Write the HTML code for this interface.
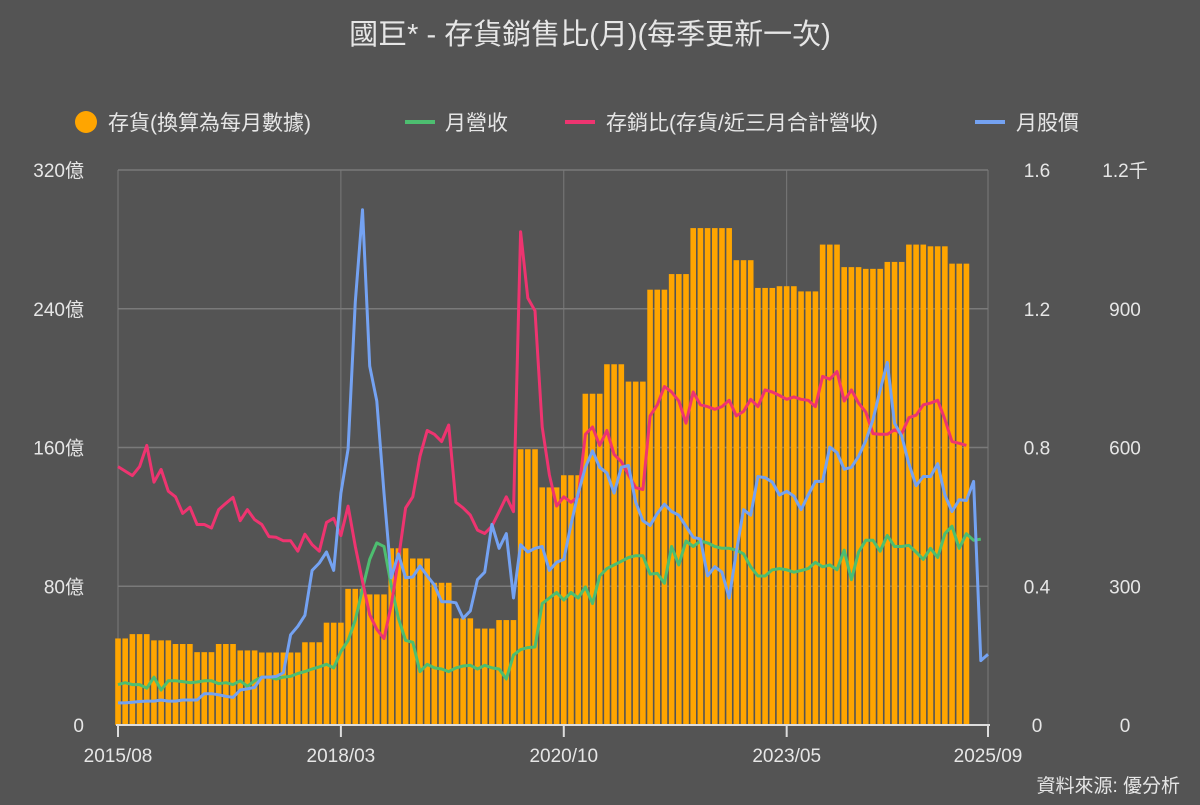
<!DOCTYPE html>
<html><head><meta charset="utf-8">
<style>
body{margin:0;background:#545454;width:1200px;height:800px;overflow:hidden;font-family:"Liberation Sans","Noto Sans CJK TC",sans-serif;}
svg text{font-family:"Liberation Sans","Noto Sans CJK TC",sans-serif;fill:#e6e6e6;}
</style></head>
<body>
<svg id="chart" width="1200" height="800" xmlns="http://www.w3.org/2000/svg">
<rect width="1200" height="800" fill="#545454"/>
<text x="590" y="44" font-size="29" text-anchor="middle">國巨* - 存貨銷售比(月)(每季更新一次)</text>
<g id="legend">
  <circle cx="86" cy="122" r="11" fill="#FFA500"/>
  <text x="108" y="130" font-size="21">存貨(換算為每月數據)</text>
  <rect x="405" y="120" width="30" height="4" fill="#4DBE70"/>
  <text x="445" y="130" font-size="21">月營收</text>
  <rect x="565" y="120" width="30" height="4" fill="#EE3470"/>
  <text x="606" y="130" font-size="21">存銷比(存貨/近三月合計營收)</text>
  <rect x="975" y="120" width="30" height="4" fill="#74A2F2"/>
  <text x="1016" y="130" font-size="21">月股價</text>
</g>
<g id="grid"></g>
<g id="bars"></g>
<g id="lines"></g>
<g id="axes"></g>
<text x="1180" y="792" font-size="19" text-anchor="end">資料來源: 優分析</text>
</svg>
<script>
// quarterly inventory (億), 2015Q3 .. 2025Q2
const inventoryQ=[49.9,52.4,48.8,46.7,42,46.7,43,41.8,41.8,47.7,59,78.5,75.3,101.9,96,82,61.5,55.6,60.5,159,137,144,191,208,198,251,260,286.5,286.5,268,252,253,250,277,264,263,267,277,276,266];
// monthly revenue (億), 2015/08 .. 2025/08
const revenue=[23.3,24.4,23.3,23.3,21.2,27.6,20.2,25.5,25.5,25.0,24.4,24.8,25.5,25.5,23.8,24.4,23.3,25.5,22.3,25.5,27.6,27.6,26.5,27.6,28.0,29.7,30.8,32.3,33.5,35.0,32.9,42.4,48.8,60.5,78.5,95.5,105.0,102.9,80.6,61.5,48.8,47.7,30.8,35.0,32.9,32.3,30.8,32.9,34.0,34.4,32.3,34.4,32.9,32.3,26.5,40.3,43.5,44.6,45.0,70.0,73.2,76.4,72.1,76.4,73.2,79.6,70.0,85.9,90.2,92.3,94.4,96.6,97.6,97.6,87.0,87.4,81.7,102.9,92.3,106.1,102.9,106.1,105.0,102.9,101.9,101.9,100.8,98.7,91.2,85.9,85.9,89.5,90.2,89.5,88.1,89.1,90.2,93.8,91.2,92.3,89.5,100.8,83.8,99.7,106.5,106.5,100.2,109.3,102.9,102.9,103.6,99.7,95.5,101.9,96.6,110.3,114.6,101.9,110.3,106.5,107.2];
// monthly inventory/sales ratio, 2015/08 .. 2025/06
const ratio=[0.745,0.732,0.719,0.745,0.806,0.700,0.737,0.674,0.658,0.610,0.628,0.578,0.578,0.568,0.621,0.639,0.656,0.589,0.621,0.592,0.578,0.543,0.541,0.531,0.531,0.501,0.550,0.520,0.501,0.584,0.596,0.546,0.631,0.515,0.414,0.318,0.276,0.249,0.345,0.477,0.626,0.658,0.775,0.849,0.838,0.817,0.865,0.642,0.626,0.605,0.562,0.552,0.573,0.615,0.658,0.615,1.422,1.231,1.194,0.859,0.721,0.631,0.658,0.642,0.658,0.838,0.859,0.806,0.849,0.780,0.759,0.721,0.684,0.679,0.891,0.923,0.976,0.960,0.934,0.870,0.960,0.923,0.918,0.910,0.918,0.936,0.891,0.904,0.939,0.918,0.966,0.960,0.950,0.939,0.946,0.939,0.936,0.918,1.005,0.997,1.019,0.934,0.966,0.928,0.902,0.840,0.838,0.838,0.851,0.840,0.886,0.893,0.923,0.928,0.936,0.881,0.817,0.812,0.806];
// monthly stock price, 2015/08 .. 2025/09
const price=[47.7,47.7,49.3,50.9,51.7,51.7,54.1,51.7,51.7,54.1,54.1,54.1,67.6,67.6,65.3,62.1,59.7,75.6,78.0,81.2,103.5,103.5,105.0,113.0,195.0,213.3,237.1,334.2,350.2,374.0,334.2,501.4,596.9,915.2,1114.1,775.9,700.3,501.4,318.3,370.0,318.3,319.9,343.8,322.3,302.4,266.6,266.6,264.2,230.8,246.7,314.3,330.3,433.7,382.0,413.8,274.6,389.9,374.0,382.0,386.0,334.2,351.7,358.1,433.7,501.4,557.1,592.9,557.1,545.1,501.4,557.1,561.0,481.5,441.7,431.3,457.6,477.5,461.6,453.6,429.7,405.9,401.9,322.3,342.2,330.3,274.6,374.0,465.5,453.6,537.2,534.8,525.2,497.4,505.3,495.0,465.5,497.4,526.8,526.8,600.8,588.9,553.1,557.1,580.9,614.4,660.5,724.2,783.9,652.6,624.7,565.0,517.3,537.2,537.2,565.0,497.4,461.6,487.0,485.4,526.8,139.3,152.8];
const leftTicks=["0","80億","160億","240億","320億"];
const midTicks=["0","0.4","0.8","1.2","1.6"];
const rightTicks=["0","300","600","900","1.2千"];
const xTickLabels=["2015/08","2018/03","2020/10","2023/05","2025/09"];
const xTickMonths=[0,31,62,93,121];

const NS="http://www.w3.org/2000/svg";
const X0=118,X1=988,Y0=725,Y1=170,NM=121;
const xm=i=>X0+(X1-X0)*i/NM;
const yL=v=>Y0-(Y0-Y1)*v/320;
const yR=v=>Y0-(Y0-Y1)*v/1.6;
const yP=v=>Y0-(Y0-Y1)*v/1200;
function mk(tag,attrs,parent){const e=document.createElementNS(NS,tag);for(const k in attrs)e.setAttribute(k,attrs[k]);parent.appendChild(e);return e;}
const grid=document.getElementById('grid'),bars=document.getElementById('bars'),lines=document.getElementById('lines'),axes=document.getElementById('axes');

for(let k=0;k<5;k++){
  const y=Y0-(Y0-Y1)*k/4;
  if(k>0){const g=mk('line',{x1:X0,x2:X1,y1:y,y2:y,stroke:'#7a7a7a','stroke-width':1.5},grid);
  
  }
  const t1=mk('text',{x:84,y:y+7,'font-size':19,'text-anchor':'end'},axes);t1.textContent=leftTicks[k];
  
  
  const t2=mk('text',{x:1037,y:y+7,'font-size':19,'text-anchor':'middle'},axes);t2.textContent=midTicks[k];
  
  
  const t3=mk('text',{x:1125,y:y+7,'font-size':19,'text-anchor':'middle'},axes);t3.textContent=rightTicks[k];
  
  
}
xTickMonths.forEach((m,k)=>{
  const x=xm(m);
  const g=mk('line',{x1:x,x2:x,y1:Y1,y2:Y0,stroke:'#7a7a7a','stroke-width':1},grid);
  
  
  const tk=mk('line',{x1:x,x2:x,y1:Y0,y2:Y0+12,stroke:'#ddd','stroke-width':2},axes);
  
  
  const t=mk('text',{x:x,y:762,'font-size':19,'text-anchor':'middle'},axes);t.textContent=xTickLabels[k];
  
  
});
const ax=mk('line',{x1:X0-2,x2:X1+2,y1:Y0,y2:Y0,stroke:'#ddd','stroke-width':2},axes);



// expand quarterly inventory to months (first quarter partial: 2 months)
const inventoryM=[];
inventoryQ.forEach((v,q)=>{const n=q===0?2:3;for(let j=0;j<n;j++)inventoryM.push(v);});
const step=(X1-X0)/NM;
inventoryM.forEach((v,i)=>{
  const x=xm(i)-step/2+0.8,y=yL(v);
  const b=mk('rect',{x:x,y:y,width:step-1.6,height:Y0-y,fill:'#FFA500'},bars);
  
  
});
function line(arr,fy,color,name){
  const d=arr.map((v,i)=>(i?'L':'M')+xm(i).toFixed(1)+','+fy(v).toFixed(1)).join('');
  const p=mk('path',{d:d,fill:'none',stroke:color,'stroke-width':3,'stroke-linejoin':'round'},lines);
  
  
}
line(revenue,yL,'#4DBE70','revenue-line');
line(ratio,yR,'#EE3470','ratio-line');
line(price,yP,'#74A2F2','price-line');
</script>
</body></html>
